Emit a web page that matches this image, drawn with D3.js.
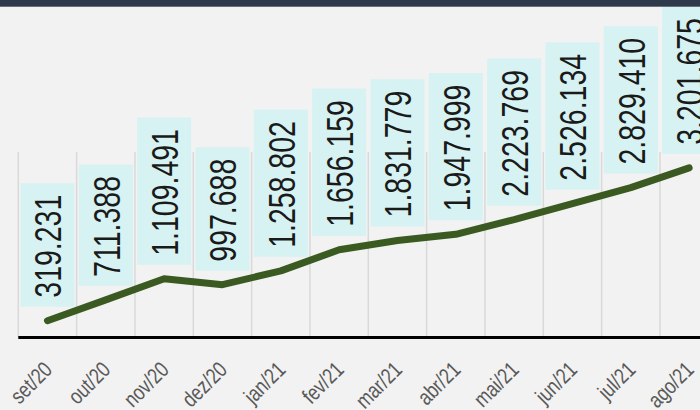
<!DOCTYPE html>
<html><head><meta charset="utf-8">
<script src="https://cdn.jsdelivr.net/npm/d3@7"></script>
<style>
html,body{margin:0;padding:0;background:#f2f2f2;}
svg{display:block;}
</style></head>
<body>
<svg id="chart" width="700" height="410"></svg>
<script>
const months = ["set/20","out/20","nov/20","dez/20","jan/21","fev/21","mar/21","abr/21","mai/21","jun/21","jul/21","ago/21"];
const values = [319231, 711388, 1109491, 997688, 1258802, 1656159, 1831779, 1947999, 2223769, 2526134, 2829410, 3201675];
const yDomain = [0, 3500000];

const data = months.map((m, i) => ({m, v: values[i]}));
const svg = d3.select("#chart");
const W = 700, H = 410;
svg.append("rect").attr("width", W).attr("height", H).attr("fill", "#f2f2f2");

const x = d3.scaleBand().domain(months).range([18.3, 718.3]).padding(0);
const y = d3.scaleLinear().domain(yDomain).range([337.6, 152]);
const loc = d3.formatLocale({decimal: ",", thousands: ".", grouping: [3], currency: ["R$", ""]});
const fmt = loc.format(",d");
const FONT = "'Liberation Sans',Arial,sans-serif";
const SQ = 0.77; // horizontal condensing to mimic a narrow face

// vertical gridlines at band starts
svg.append("g").selectAll("line").data(months).join("line")
  .attr("x1", d => x(d)).attr("x2", d => x(d))
  .attr("y1", y(yDomain[1])).attr("y2", y(0))
  .attr("stroke", "#d9d9d9").attr("stroke-width", 1.5);

// x axis line
svg.append("line").attr("x1", x.range()[0]).attr("x2", W)
  .attr("y1", y(0)).attr("y2", y(0))
  .attr("stroke", "#000").attr("stroke-width", 3);

// value labels in boxes
const lab = svg.append("g").selectAll("g").data(data).join("g");
lab.append("text")
  .attr("transform", d => `translate(${x(d.m) + x.bandwidth()/2 + 14},${y(d.v) - 23}) rotate(-90) scale(${SQ},1)`)
  .attr("font-family", FONT).attr("font-size", 37).attr("fill", "#1a1a1a")
  .text(d => fmt(d.v));
lab.each(function(d) {
  const t = d3.select(this).select("text");
  const len = t.node().getComputedTextLength() * SQ;
  const bottom = y(d.v) - 14;
  d3.select(this).insert("rect", "text")
    .attr("x", x(d.m) + x.bandwidth()/2 - 27).attr("width", 54)
    .attr("y", bottom - len - 20.5).attr("height", len + 20.5)
    .attr("fill", "#d6f2f2");
});

// line
svg.append("path").datum(data)
  .attr("d", d3.line().x(d => x(d.m) + x.bandwidth()/2).y(d => y(d.v)))
  .attr("fill", "none").attr("stroke", "#3b5a22").attr("stroke-width", 7)
  .attr("stroke-linecap", "round").attr("stroke-linejoin", "round");

// x tick labels
svg.append("g").selectAll("text").data(months).join("text")
  .attr("transform", d => `translate(${x(d) + x.bandwidth()/2 + 6},${371}) rotate(-45) scale(0.8,1)`)
  .attr("text-anchor", "end")
  .attr("font-family", FONT).attr("font-size", 22).attr("fill", "#595959")
  .text(d => d);

// header bar
svg.append("rect").attr("x", 0).attr("y", 0).attr("width", W).attr("height", 6.7).attr("fill", "#2e3a4b");
</script>
</body></html>
